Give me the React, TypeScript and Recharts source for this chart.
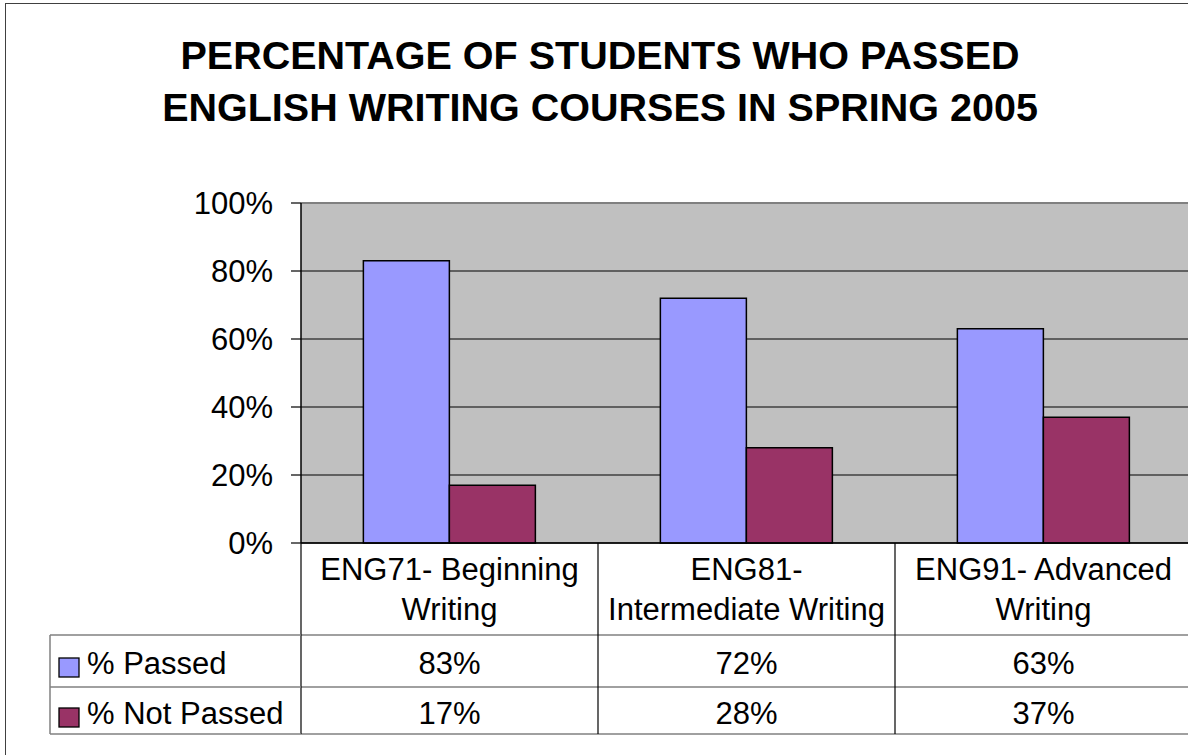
import React from 'react';
import { BarChart, Bar, XAxis, YAxis, CartesianGrid, ReferenceLine } from 'recharts';

// ---- data ----
const categoryLine1 = ['ENG71- Beginning', 'ENG81-', 'ENG91- Advanced'];
const categoryLine2 = ['Writing', 'Intermediate Writing', 'Writing'];
const passed = [83, 72, 63];
const notPassed = [17, 28, 37];
const seriesNames = ['% Passed', '% Not Passed'];
const seriesColors = ['#9999FF', '#993366'];
const yTicks = [0, 20, 40, 60, 80, 100];
const titleLines = ['PERCENTAGE OF STUDENTS WHO PASSED', 'ENGLISH WRITING COURSES IN SPRING 2005'];

const data = categoryLine1.map((c, i) => ({
  category: `${c} ${categoryLine2[i]}`,
  passed: passed[i],
  notPassed: notPassed[i],
}));

// ---- layout ----
const FONT = '"Liberation Sans", Arial, sans-serif';
const CHART_W = 1192;
const CHART_H = 755;
const PLOT_LEFT = 301;
const PLOT_TOP = 203;
const PLOT_BOTTOM = 543;
const HEADER_BOTTOM = 635;
const ROW1_BOTTOM = 687;
const TABLE_BOTTOM = 734;
const TABLE_LEFT = 50;
const BAND = (CHART_W - PLOT_LEFT) / categoryLine1.length;
const FS = 31;

const CategoryTick = (props: any) => {
  const { x, index } = props;
  const left = x - BAND / 2;
  const right = x + BAND / 2;
  const textProps = { textAnchor: 'middle' as const, fontSize: FS, fill: '#000', fontFamily: FONT };
  return (
    <g>
      {[HEADER_BOTTOM, ROW1_BOTTOM, TABLE_BOTTOM].map((y) => (
        <line key={y} x1={left} x2={right} y1={y} y2={y} stroke="#808080" strokeWidth={1.5} />
      ))}
      <line x1={left} x2={left} y1={PLOT_BOTTOM} y2={TABLE_BOTTOM} stroke="#000" strokeWidth={1.2} />
      <text x={x} y={580} {...textProps}>{categoryLine1[index]}</text>
      <text x={x} y={620} {...textProps}>{categoryLine2[index]}</text>
      <text x={x} y={674} {...textProps}>{passed[index]}%</text>
      <text x={x} y={724} {...textProps}>{notPassed[index]}%</text>
      {index === 0 && (
        <g>
          {[HEADER_BOTTOM, ROW1_BOTTOM, TABLE_BOTTOM].map((y) => (
            <line key={'l' + y} x1={TABLE_LEFT} x2={left} y1={y} y2={y} stroke="#808080" strokeWidth={1.5} />
          ))}
          <line x1={TABLE_LEFT} x2={TABLE_LEFT} y1={HEADER_BOTTOM} y2={TABLE_BOTTOM} stroke="#808080" strokeWidth={1.5} />
          {seriesNames.map((n, si) => (
            <g key={n}>
              <rect x={59} y={658 + si * 50} width={20} height={19} fill={seriesColors[si]} stroke="#000" strokeWidth={1.3} />
              <text x={87} y={674 + si * 50} fontSize={FS} fill="#000" fontFamily={FONT}>{n}</text>
            </g>
          ))}
        </g>
      )}
    </g>
  );
};

export default function App() {
  return (
    <div
      style={{
        position: 'absolute',
        left: 0,
        top: 0,
        width: 1188,
        height: 755,
        overflow: 'hidden',
        background: '#fff',
        fontFamily: FONT,
      }}
    >
      <div
        style={{
          position: 'absolute',
          left: 5,
          top: 3,
          width: 1400,
          height: 1000,
          borderLeft: '1.5px solid #404040',
          borderTop: '1.5px solid #404040',
        }}
      />
      <div
        style={{
          position: 'absolute',
          left: 0,
          top: 29,
          width: 1200,
          textAlign: 'center',
          fontWeight: 'bold',
          fontSize: 39.5,
          lineHeight: '52px',
          color: '#000',
          fontFamily: FONT,
        }}
      >
        {titleLines.map((t) => (
          <div key={t}>{t}</div>
        ))}
      </div>
      <div style={{ position: 'absolute', left: 0, top: 0 }}>
        <BarChart
          width={CHART_W}
          height={CHART_H}
          data={data}
          margin={{ top: PLOT_TOP, right: 0, left: 0, bottom: CHART_H - TABLE_BOTTOM }}
          barCategoryGap="21%"
          barGap={0}
        >
          <CartesianGrid vertical={false} stroke="#000" strokeWidth={1.2} fill="#C0C0C0" fillOpacity={1} />
          <ReferenceLine y={100} stroke="#808080" strokeWidth={2} />
          <XAxis
            dataKey="category"
            interval={0}
            height={TABLE_BOTTOM - PLOT_BOTTOM}
            tickLine={false}
            axisLine={{ stroke: '#000', strokeWidth: 1.5 }}
            tick={<CategoryTick />}
          />
          <YAxis
            width={PLOT_LEFT}
            domain={[0, 100]}
            ticks={yTicks}
            interval={0}
            tickFormatter={(v: number) => `${v}%`}
            tickSize={10}
            tickMargin={18}
            tickLine={{ stroke: '#000', strokeWidth: 1.2 }}
            axisLine={{ stroke: '#000', strokeWidth: 1.5 }}
            tick={{ fontSize: FS, fill: '#000', fontFamily: FONT }}
          />
          <Bar dataKey="passed" name={seriesNames[0]} fill={seriesColors[0]} stroke="#000" strokeWidth={1.5} isAnimationActive={false} />
          <Bar dataKey="notPassed" name={seriesNames[1]} fill={seriesColors[1]} stroke="#000" strokeWidth={1.5} isAnimationActive={false} />
        </BarChart>
      </div>
    </div>
  );
}
